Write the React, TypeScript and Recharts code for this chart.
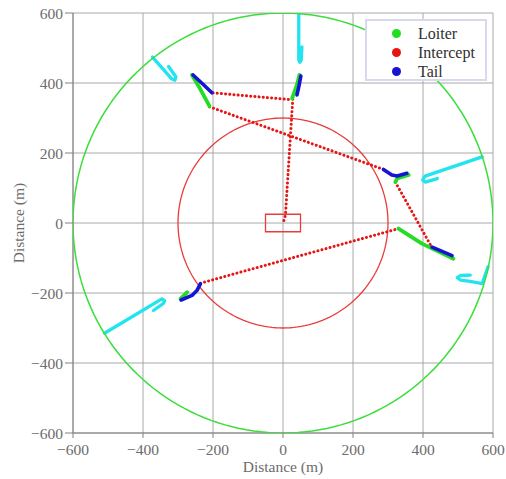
import {
  CartesianGrid,
  Legend,
  ReferenceArea,
  Scatter,
  ScatterChart,
  XAxis,
  YAxis,
} from 'recharts';

/*
 * Engagement plot: incoming target tracks (cyan), interceptor loiter / intercept /
 * tail legs, the 600 m outer ring, the 300 m inner ring and the central gate box.
 * All coordinates are metres.
 */
const FONT = '"Liberation Serif", "Times New Roman", serif';
const GRID = '#a8a8a8';
const AXIS = '#808080';
const TICK_TEXT = '#6c6c6c';
const CYAN = '#22e4f0';
const GREEN = '#22dd22';
const RED = '#e81414';
const BLUE = '#1414d2';
const RING_GREEN = '#3ade3a';
const RING_RED = '#e83c3c';

const TICKS = [-600, -400, -200, 0, 200, 400, 600];
const OUTER_RING_M = 600;
const INNER_RING_M = 300;
const GATE_X = [-50, 50];
const GATE_Y = [-25, 25];

type Pt = [number, number];

// incoming targets
const targetTracks: Pt[][] = [
  [[45, 600], [45, 466], [48, 459], [52, 465], [54, 503]],
  [[-373, 474], [-318, 412], [-309, 408], [-306, 418], [-327, 447]],
  [[569, 189], [406, 134], [399, 123], [406, 117], [441, 127]],
  [[586, -125], [569, -173], [535, -167], [507, -163], [498, -156], [507, -150], [535, -149]],
  [[-510, -315], [-346, -217], [-338, -222], [-342, -230], [-370, -250]],
];

const loiterLegs: Pt[][] = [
  [[-260, 423], [-236, 382], [-210, 334]],
  [[47, 423], [40, 395], [26, 356]],
  [[359, 137], [326, 127], [321, 117]],
  [[330, -16], [397, -59], [487, -102]],
  [[-293, -217], [-274, -198]],
];

const interceptLegs: Pt[][] = [
  [[-200, 372], [26, 352]],
  [[28, 354], [7, 22], [1, 2]],
  [[-210, 332], [287, 153]],
  [[321, 117], [421, -62]],
  [[-236, -172], [330, -16]],
  [[-274, -198], [-266, -190]],
];

const tailLegs: Pt[][] = [
  [[-257, 423], [-227, 395], [-203, 372]],
  [[51, 420], [46, 393], [40, 366]],
  [[287, 153], [311, 137], [326, 134], [354, 142]],
  [[426, -69], [483, -93]],
  [[-291, -220], [-260, -207], [-246, -193], [-236, -174]],
];

const legendItems = [
  { name: 'Loiter', color: GREEN },
  { name: 'Intercept', color: RED },
  { name: 'Tail', color: BLUE },
];

const toRows = (pts: Pt[]) => pts.map(([x, y]) => ({ x, y }));

function ring(r: number) {
  const rows: { x: number; y: number }[] = [];
  for (let i = 0; i <= 180; i++) {
    const a = (i / 180) * Math.PI * 2;
    rows.push({ x: r * Math.cos(a), y: r * Math.sin(a) });
  }
  return rows;
}

const noDot = () => <g />;
const fmt = (v: number) => String(v).replace('-', '\u2212');

function LegendBox() {
  return (
    <div
      style={{
        width: 118,
        height: 58,
        border: '2px solid #d8d8ee',
        background: '#fff',
        fontFamily: FONT,
        fontSize: 16,
        color: '#303030',
        position: 'relative',
      }}
    >
      {legendItems.map((it, i) => (
        <div
          key={it.name}
          style={{ position: 'absolute', left: 0, top: 3 + i * 19.2, height: 19, display: 'flex', alignItems: 'center' }}
        >
          <span
            style={{
              display: 'inline-block',
              width: 9,
              height: 9,
              borderRadius: '50%',
              background: it.color,
              marginLeft: 25,
              marginRight: 17,
            }}
          />
          <span>{it.name}</span>
        </div>
      ))}
    </div>
  );
}

function track(pts: Pt[], key: string, stroke: string, width: number, dotted = false) {
  return (
    <Scatter
      key={key}
      data={toRows(pts)}
      line={{
        stroke,
        strokeWidth: width,
        strokeLinecap: 'round',
        strokeLinejoin: 'round',
        strokeDasharray: dotted ? '0.1 4.1' : undefined,
      }}
      shape={noDot}
      isAnimationActive={false}
      legendType="none"
    />
  );
}

export default function App() {
  return (
    <div style={{ position: 'absolute', left: 0, top: 0, width: 506, height: 479, background: '#fff' }}>
      <ScatterChart width={506} height={479} margin={{ top: 13, right: 13, bottom: 16, left: 13 }}>
        <CartesianGrid stroke={GRID} />
        <XAxis
          type="number"
          dataKey="x"
          domain={[-600, 600]}
          ticks={TICKS}
          height={30}
          stroke={AXIS}
          tick={{ fill: TICK_TEXT, fontSize: 15.5, fontFamily: FONT }}
          tickSize={5}
          tickMargin={6}
          tickFormatter={fmt}
          allowDataOverflow
          label={{ value: 'Distance (m)', position: 'bottom', offset: -2, fill: TICK_TEXT, fontSize: 15.5, fontFamily: FONT }}
        />
        <YAxis
          type="number"
          dataKey="y"
          domain={[-600, 600]}
          ticks={TICKS}
          width={60}
          stroke={AXIS}
          tick={{ fill: TICK_TEXT, fontSize: 15.5, fontFamily: FONT }}
          tickSize={8}
          tickMargin={2}
          tickFormatter={fmt}
          allowDataOverflow
          label={{
            value: 'Distance (m)',
            angle: -90,
            position: 'insideLeft',
            offset: 5,
            fill: TICK_TEXT,
            fontSize: 15.5,
            fontFamily: FONT,
            style: { textAnchor: 'middle' },
          }}
        />
        {targetTracks.map((p, i) => track(p, `t${i}`, CYAN, 3.3))}
        <Scatter
          data={ring(OUTER_RING_M)}
          line={{ stroke: RING_GREEN, strokeWidth: 1.5 }}
          shape={noDot}
          isAnimationActive={false}
          legendType="none"
        />
        <Scatter
          data={ring(INNER_RING_M)}
          line={{ stroke: RING_RED, strokeWidth: 1.3 }}
          shape={noDot}
          isAnimationActive={false}
          legendType="none"
        />
        <ReferenceArea
          x1={GATE_X[0]}
          x2={GATE_X[1]}
          y1={GATE_Y[0]}
          y2={GATE_Y[1]}
          fill="none"
          fillOpacity={0}
          stroke={RING_RED}
          strokeWidth={1.3}
        />
        {interceptLegs.map((p, i) => track(p, `r${i}`, RED, 3, true))}
        {loiterLegs.map((p, i) => track(p, `g${i}`, GREEN, 3.8))}
        {tailLegs.map((p, i) => track(p, `b${i}`, BLUE, 3.6))}
        <Legend
          layout="vertical"
          align="center"
          verticalAlign="middle"
          content={() => <LegendBox />}
          wrapperStyle={{ left: 365, top: 19, width: 122, height: 62 }}
        />
      </ScatterChart>
    </div>
  );
}
